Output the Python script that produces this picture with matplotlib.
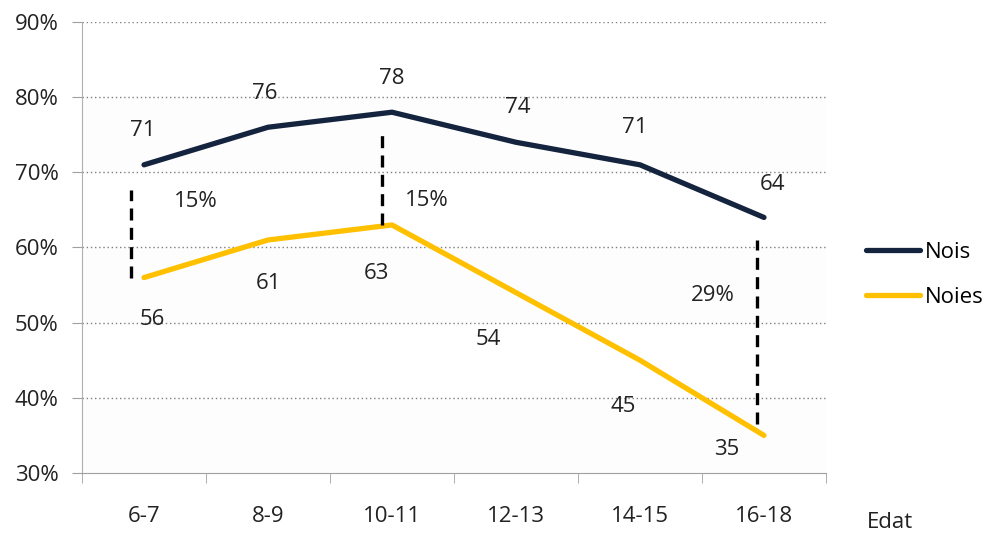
import matplotlib.pyplot as plt
import numpy as np

plt.rcParams['font.family'] = ['Open Sans', 'DejaVu Sans']

# data
ages = ['6-7', '8-9', '10-11', '12-13', '14-15', '16-18']
nois = [71, 76, 78, 74, 71, 64]
noies = [56, 61, 63, 54, 45, 35]

# gaps marked with dashed lines
gap_idx = [0, 2, 5]
gap_text = ['15%', '15%', '29%']
gap_lo = [56.0, 63.0, 36.5]
gap_hi = [67.7, 75.2, 61.0]

yticks = [30, 40, 50, 60, 70, 80, 90]

navy = '#14243F'
gold = '#FFC000'
txt = '#222222'
fs = 16

fig = plt.figure(figsize=(9.86, 5.33), dpi=100)
ax = fig.add_axes([0.0832, 0.1126, 0.7545, 0.8461])

x = np.arange(len(ages))
ax.set_xlim(-0.5, len(ages) - 0.5)
ax.set_ylim(30, 90)

# faint alternating bands
for lo in yticks[:-1:2]:
    ax.axhspan(lo, lo + 10, color='#FDFDFD', zorder=0)

for y in yticks[1:]:
    ax.axhline(y, color='#808080', lw=1.0, ls=(0, (1, 2)), zorder=1)

ax.plot(x, nois, color=navy, lw=3.8, solid_capstyle='round', label='Nois', zorder=3)
ax.plot(x, noies, color=gold, lw=3.8, solid_capstyle='round', label='Noies', zorder=3)

# value labels, offsets in points
nois_off = [(-1, 25), (-2, 24), (0, 24), (1, 25), (-4, 27), (6, 24)]
noies_off = [(6, -30), (0, -31), (-11, -35), (-20, -34), (-12, -33), (-27, -10)]
for i in range(len(ages)):
    ax.annotate(str(nois[i]), (x[i], nois[i]), xytext=nois_off[i],
                textcoords='offset points', ha='center', va='center', fontsize=fs, color=txt)
    ax.annotate(str(noies[i]), (x[i], noies[i]), xytext=noies_off[i],
                textcoords='offset points', ha='center', va='center', fontsize=fs, color=txt)

# dashed gap markers and their labels
dash_dx = [-0.105, -0.08, -0.056]
text_off = [(37, 14), (25, -23), (-37, 22)]
for k, i in enumerate(gap_idx):
    ax.plot([x[i] + dash_dx[k]] * 2, [gap_lo[k], gap_hi[k]], color='black', lw=2.4,
            ls=(0, (3.6, 2.2)), zorder=4)
    mid = (nois[i] + noies[i]) / 2
    ax.annotate(gap_text[k], (x[i], mid), xytext=text_off[k], textcoords='offset points',
                ha='center', va='center', fontsize=fs, color=txt)

ax.set_yticks(yticks)
ax.set_yticklabels([f'{v}%' for v in yticks])
ax.set_xticks(x)
ax.set_xticklabels(ages)
ax.set_xticks(np.arange(-0.5, len(ages)), minor=True)
ax.tick_params(axis='x', which='major', length=0, pad=24, labelsize=fs, labelcolor=txt)
ax.tick_params(axis='x', which='minor', length=7, color='#A0A0A0', direction='out')
ax.tick_params(axis='y', length=7, color='#A0A0A0', pad=10, labelsize=fs, labelcolor=txt)

for s in ['top', 'right']:
    ax.spines[s].set_visible(False)
ax.spines['left'].set_color('#B0B0B0')
ax.spines['bottom'].set_color('#A0A0A0')

fig.legend(loc='center left', bbox_to_anchor=(0.878, 0.484), frameon=False, fontsize=fs,
           handlelength=2.45, handletextpad=0.22, labelspacing=1.1, borderpad=0, borderaxespad=0)

fig.text(0.903, 0.019, 'Edat', fontsize=fs, color=txt, ha='center', va='center')

fig.savefig('out.png', dpi=100)
